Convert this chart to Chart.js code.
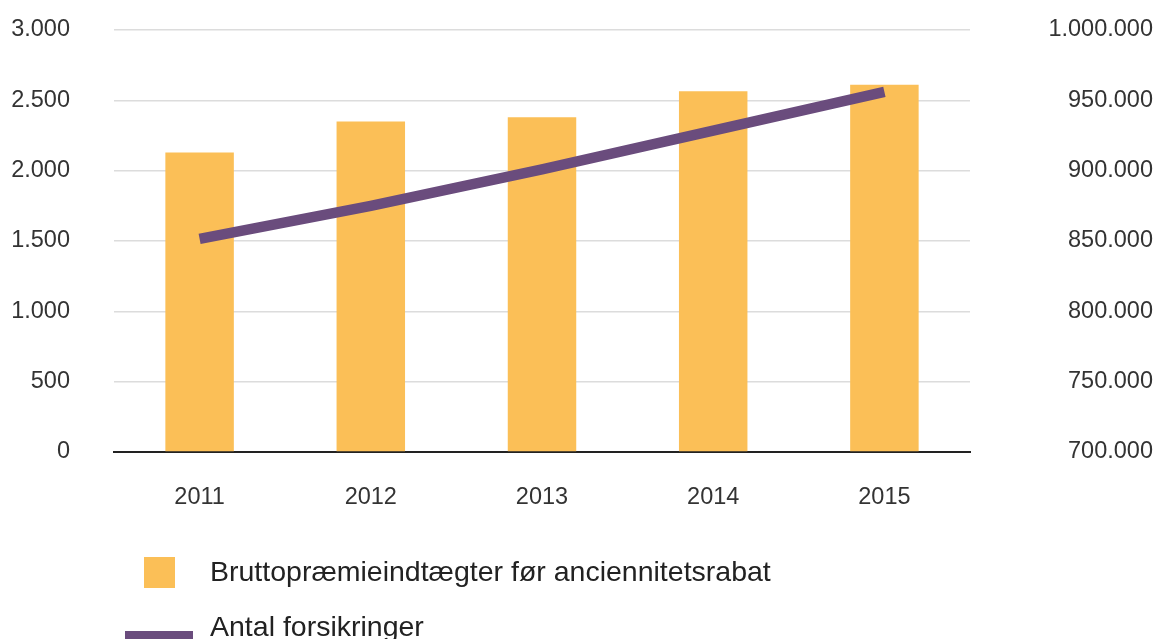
<!DOCTYPE html>
<html>
<head>
<meta charset="utf-8">
<script src="https://cdn.jsdelivr.net/npm/chart.js@4/dist/chart.umd.min.js"></script>
<style>
  html, body { margin: 0; padding: 0; background: #fff; overflow: hidden; }
  #wrap { position: relative; width: 1158px; height: 639px; }
  #chart { position: absolute; left: 0; top: 0; }
  .lg { position: absolute; font-family: 'Liberation Sans', Arial, sans-serif; font-size: 28.5px; line-height: 28px; color: #222; white-space: nowrap; }
  .sw { position: absolute; }
</style>
</head>
<body>
<div id="wrap">
  <canvas id="chart" width="1158" height="639"></canvas>
  <div class="sw" id="sw1" style="left:144px;top:557px;width:31px;height:31px"></div>
  <div class="lg" id="lg1" style="left:210px;top:557px"></div>
  <div class="sw" id="sw2" style="left:125px;top:631px;width:68px;height:10px"></div>
  <div class="lg" id="lg2" style="left:210px;top:612px"></div>
</div>
<script>
const YEARS = ['2011', '2012', '2013', '2014', '2015'];
const PREMIUMS = [2130, 2350, 2380, 2565, 2610];            // venstre akse
const POLICIES = [851500, 875000, 901000, 928500, 956000];  // højre akse
const LABEL_BARS = 'Bruttopræmieindtægter før anciennitetsrabat';
const LABEL_LINE = 'Antal forsikringer';

const BAR = '#fbbf57', LINE = '#6a4c7d', TXT = '#333';
const FONT = { family: "'Liberation Sans', Arial, sans-serif", size: 23.5 };

// tusindtals-punktum
const fmt = (v) => String(v).replace(/\B(?=(\d{3})+(?!\d))/g, '.');

// tick padding would otherwise push the plot area down
const noVPad = (s) => { s.paddingTop = 0; s.paddingBottom = 0; };

document.getElementById('sw1').style.background = BAR;
document.getElementById('sw2').style.background = LINE;
document.getElementById('lg1').textContent = LABEL_BARS;
document.getElementById('lg2').textContent = LABEL_LINE;

new Chart(document.getElementById('chart'), {
  data: {
    labels: YEARS,
    datasets: [
      { type: 'line', label: LABEL_LINE, data: POLICIES, yAxisID: 'y1', order: 0,
        borderColor: LINE, borderWidth: 10.5, borderCapStyle: 'butt', pointRadius: 0, tension: 0 },
      { type: 'bar', label: LABEL_BARS, data: PREMIUMS, yAxisID: 'y', order: 1,
        backgroundColor: BAR, barPercentage: 0.4, categoryPercentage: 1 },
    ],
  },
  options: {
    responsive: false, animation: false,
    layout: { padding: { top: 30, right: 5, left: 0, bottom: 0 } },
    plugins: { legend: { display: false }, tooltip: { enabled: false } },
    scales: {
      x: {
        grid: { display: false, drawTicks: false },
        border: { color: '#222', width: 2 },
        ticks: { color: TXT, font: FONT, padding: 31 },
        afterFit: (s) => { s.height = 639 - 452; },
      },
      y: {
        position: 'left', min: 0, max: 3000,
        grid: { color: '#dcdcdc', lineWidth: 1.5, drawTicks: false },
        border: { display: false },
        ticks: { stepSize: 500, color: TXT, font: FONT, padding: 44, callback: (v) => fmt(v) },
        afterFit: (s) => { s.width = 114; noVPad(s); },
      },
      y1: {
        position: 'right', min: 700000, max: 1000000,
        grid: { display: false, drawTicks: false },
        border: { display: false },
        ticks: { stepSize: 50000, color: TXT, font: FONT, padding: 80, crossAlign: 'far', callback: (v) => fmt(v) },
        afterFit: (s) => { s.width = 1158 - 5 - 970; noVPad(s); },
      },
    },
  },
});
</script>
</body>
</html>
